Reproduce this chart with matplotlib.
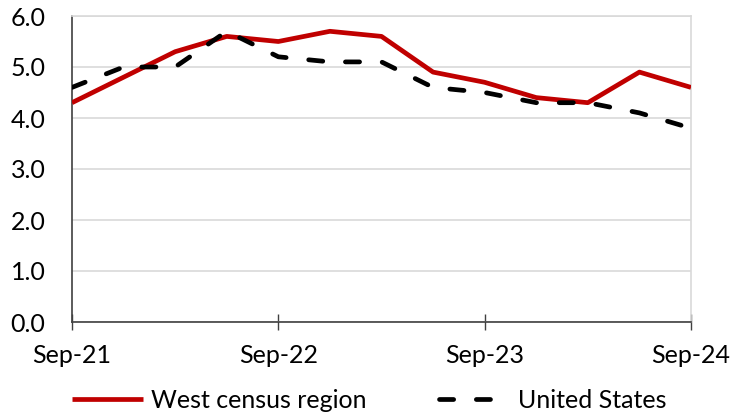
import matplotlib.pyplot as plt
import numpy as np

quarters = ['Sep-21', 'Dec-21', 'Mar-22', 'Jun-22', 'Sep-22', 'Dec-22', 'Mar-23',
            'Jun-23', 'Sep-23', 'Dec-23', 'Mar-24', 'Jun-24', 'Sep-24']
west = [4.3, 4.8, 5.3, 5.6, 5.5, 5.7, 5.6, 4.9, 4.7, 4.4, 4.3, 4.9, 4.6]
us = [4.6, 5.0, 5.0, 5.7, 5.2, 5.1, 5.1, 4.6, 4.5, 4.3, 4.3, 4.1, 3.8]
tick_labels = ['Sep-21', 'Sep-22', 'Sep-23', 'Sep-24']

plt.rcParams['font.family'] = ['Lato', 'DejaVu Sans']
plt.rcParams['font.size'] = 18

fig = plt.figure(figsize=(7.39, 4.12), dpi=100)
ax = fig.add_axes([72 / 739, 1 - 322 / 412, 619 / 739, 306 / 412])

x = np.arange(len(quarters))
ax.plot(x, west, color='#C00000', linewidth=3.4, label='West census region',
        solid_capstyle='butt', zorder=3)
ax.plot(x, us, color='black', linewidth=3.4, dashes=(3.0, 4.8),
        dash_capstyle='round', label='United States', zorder=4)

ax.set_xlim(0, 12)
ax.set_ylim(0, 6)
ax.set_yticks(np.arange(0, 7, 1))
ax.set_yticklabels([f'{v:.1f}' for v in range(7)])
ax.set_xticks([quarters.index(t) for t in tick_labels])
ax.set_xticklabels(tick_labels)

ax.grid(axis='y', color='#D9D9D9', linewidth=1.2)
ax.set_axisbelow(True)
ax.tick_params(axis='y', length=0, pad=19)
ax.tick_params(axis='x', direction='inout', length=11, width=1, color='#404040', pad=10)

for s in ['top', 'right']:
    ax.spines[s].set_color('#D9D9D9')
    ax.spines[s].set_linewidth(1.2)
ax.spines['left'].set_color('#404040')
ax.spines['bottom'].set_color('#404040')
ax.spines['left'].set_linewidth(1.2)
ax.spines['bottom'].set_linewidth(1.2)

fig.legend(loc='center left', bbox_to_anchor=(72 / 739, 0.028), ncol=2, frameon=False,
           handlelength=2.85, handletextpad=0.3, columnspacing=2.9,
           borderpad=0, borderaxespad=0)

fig.savefig('out.png', dpi=100)
